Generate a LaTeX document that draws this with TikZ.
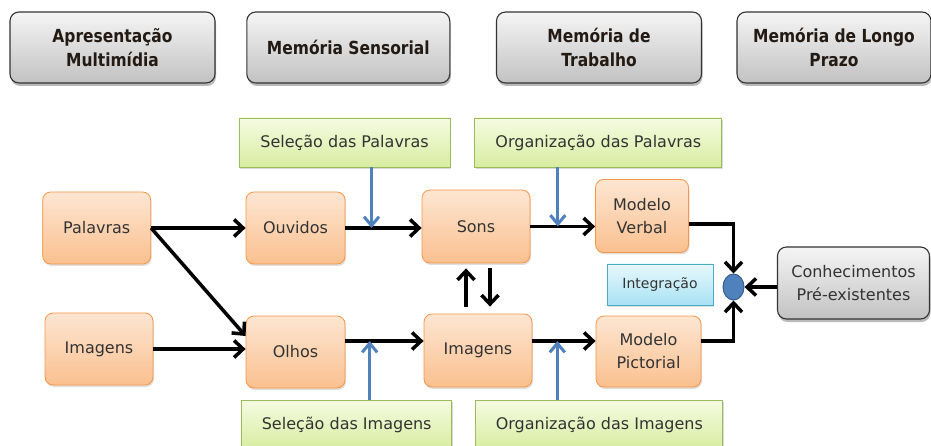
\documentclass[tikz,border=0pt]{standalone}
\usepackage{fontspec}
\setmainfont{DejaVu Sans}
\newfontfamily\headfont{DejaVu Sans}[FakeStretch=0.86]
\usetikzlibrary{arrows.meta,shadows,shapes.geometric}

\definecolor{laranjaborda}{HTML}{F79646}
\definecolor{laranjatopo}{HTML}{FDE6D2}
\definecolor{laranjabase}{HTML}{FAC08F}
\definecolor{verdeborda}{HTML}{9BBB59}
\definecolor{verdetopo}{HTML}{F6FBE2}
\definecolor{verdebase}{HTML}{D7EDA0}
\definecolor{cianoborda}{HTML}{4BACC6}
\definecolor{cianotopo}{HTML}{E8F8FD}
\definecolor{cianobase}{HTML}{A8E2F4}
\definecolor{azulseta}{HTML}{4F81BD}
\definecolor{azulborda}{HTML}{385D8A}
\definecolor{textocinza}{HTML}{333333}
\definecolor{textotitulo}{HTML}{231A14}

\tikzset{
  memhead/.style={draw=black!80, line width=1.1pt, rounded corners=9pt,
    top color=black!4, bottom color=black!24, minimum height=71pt,
    align=center, text=textotitulo,
    font=\headfont\bfseries\fontsize{18}{24}\selectfont,
    drop shadow={shadow xshift=1pt, shadow yshift=-3pt, opacity=.55}},
  procbox/.style={draw=laranjaborda, line width=.8pt, rounded corners=8pt,
    top color=laranjatopo, bottom color=laranjabase, minimum height=72pt,
    align=center, text=textocinza, font=\fontsize{16}{23}\selectfont,
    drop shadow={shadow xshift=1pt, shadow yshift=-2pt, opacity=.25}},
  selbox/.style={draw=verdeborda, line width=.8pt,
    top color=verdetopo, bottom color=verdebase, minimum height=49pt,
    text=textocinza, font=\fontsize{16}{20}\selectfont,
    drop shadow={shadow xshift=1pt, shadow yshift=-2pt, opacity=.3}},
  flow/.style={line width=3.5pt, -{Straight Barb[length=9pt,width=17pt]}},
  pick/.style={draw=azulseta, line width=3pt, -{Straight Barb[length=9pt,width=15pt]}}
}

\begin{document}
\begin{tikzpicture}[x=1pt,y=-1pt]
  \useasboundingbox (0,0) rectangle (931,446);

  % etapas
  \node[memhead, minimum width=205pt] (apres) at (112.5,47.5) {Apresentação\\Multimídia};
  \node[memhead, minimum width=203pt] (sens) at (348.3,47.5) {Memória Sensorial};
  \node[memhead, minimum width=205pt] (trab) at (599,47.5) {Memória de\\Trabalho};
  \node[memhead, minimum width=194pt] (longo) at (834,47.5) {Memória de Longo\\Prazo};

  % processos
  \node[selbox, minimum width=211pt] (selpal) at (344.5,142.5) {Seleção das Palavras};
  \node[selbox, minimum width=247pt] (orgpal) at (598.3,142.5) {Organização das Palavras};
  \node[selbox, minimum width=210pt] (selimg) at (346.7,424.5) {Seleção das Imagens};
  \node[selbox, minimum width=247pt] (orgimg) at (599.3,424.5) {Organização das Imagens};

  % caixas
  \node[procbox, minimum width=108pt] (palavras) at (96.7,228) {Palavras};
  \node[procbox, minimum width=108pt] (imagens) at (99,349) {Imagens};
  \node[procbox, minimum width=99pt] (ouvidos) at (295.5,228) {Ouvidos};
  \node[procbox, minimum width=99pt] (olhos) at (295.5,352) {Olhos};
  \node[procbox, minimum width=108pt, minimum height=73pt] (sons) at (476,226.5) {Sons};
  \node[procbox, minimum width=108pt, minimum height=73pt] (img2) at (478,350.5) {Imagens};
  \node[procbox, minimum width=93pt, minimum height=73pt] (verbal) at (642,216) {Modelo\\Verbal};
  \node[procbox, minimum width=105pt, minimum height=71pt] (pict) at (648.5,351.5) {Modelo\\Pictorial};

  \node[draw=cianoborda, line width=.8pt, top color=cianotopo, bottom color=cianobase,
    minimum width=106pt, minimum height=41pt, text=textocinza,
    font=\fontsize{14}{18}\selectfont,
    drop shadow={shadow xshift=1pt, shadow yshift=-2pt, opacity=.25}] (integ) at (660,284.5) {Integração};
  \node[ellipse, draw=azulborda, line width=1pt, fill=azulseta,
    minimum width=21pt, minimum height=26pt, inner sep=0pt] (dot) at (733.5,287) {};
  \node[memhead, minimum width=152pt, minimum height=72pt, text=textocinza,
    font=\fontsize{16}{23}\selectfont] (conh) at (853.5,283) {Conhecimentos\\Pré-existentes};

  % setas pretas
  \draw[flow] (palavras.east) -- (ouvidos.west);
  \draw[flow] (palavras.east) -- ([yshift=16pt]olhos.west);
  \draw[flow] (imagens.east) -- (imagens.east -| olhos.west);
  \draw[flow] (ouvidos.east) -- (ouvidos.east -| sons.west);
  \draw[flow] ([yshift=11pt]olhos.east) -- ([yshift=11pt]olhos.east -| img2.west);
  \draw[flow] (sons.east) -- (sons.east -| verbal.west);
  \draw[flow] ([yshift=9.5pt]img2.east) -- ([yshift=9.5pt]img2.east -| pict.west);
  \draw[flow, shorten <=7pt, shorten >=5pt] ([xshift=-12pt]img2.north) -- ([xshift=-12pt]img2.north |- sons.south);
  \draw[flow, shorten <=5pt, shorten >=7pt] ([xshift=12pt]img2.north |- sons.south) -- ([xshift=12pt]img2.north);
  \draw[flow] ([yshift=-8pt]verbal.east) -| (dot.north);
  \draw[flow] ([yshift=10.5pt]pict.east) -| (dot.south);
  \draw[flow] (conh.west |- dot.east) -- (dot.east);

  % setas azuis
  \draw[pick] ([xshift=27pt]selpal.south) -- ([xshift=27pt]selpal.south |- ouvidos.east);
  \draw[pick] ([xshift=-40.5pt]orgpal.south) -- ([xshift=-40.5pt]orgpal.south |- sons.east);
  \draw[pick] ([xshift=23pt]selimg.north) -- ([xshift=23pt,yshift=11pt]selimg.north |- olhos.east);
  \draw[pick] ([xshift=-42pt]orgimg.north) -- ([xshift=-42pt,yshift=9.5pt]orgimg.north |- img2.east);
\end{tikzpicture}
\end{document}
